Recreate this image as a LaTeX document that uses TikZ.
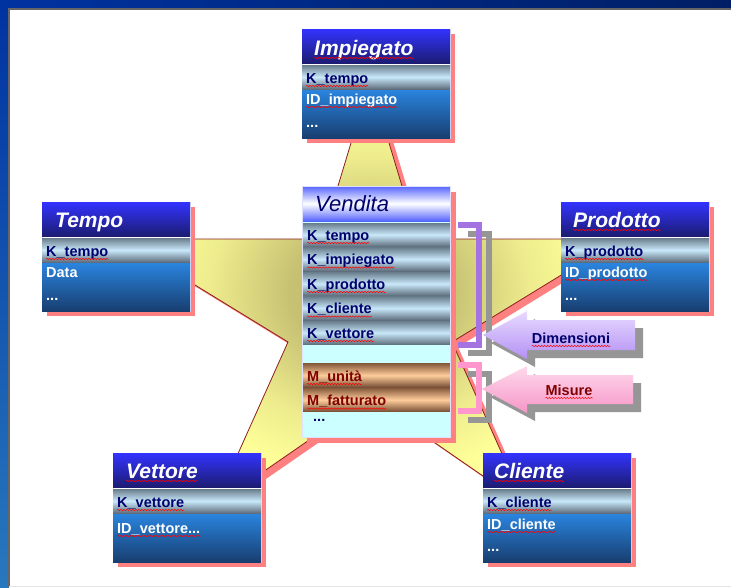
\documentclass[tikz,border=0pt]{standalone}
\usepackage{fontspec}
\setmainfont{Liberation Sans}
\usetikzlibrary{decorations.pathmorphing}
\definecolor{hdrtop}{RGB}{51,51,255}
\definecolor{hdrbot}{RGB}{28,28,115}
\definecolor{keytop}{RGB}{105,125,140}
\definecolor{keymid}{RGB}{200,232,250}
\definecolor{keybot}{RGB}{95,110,125}
\definecolor{attrtop}{RGB}{42,132,222}
\definecolor{attrbot}{RGB}{24,62,112}
\definecolor{navytxt}{RGB}{0,0,110}
\definecolor{vhead}{RGB}{85,100,255}
\definecolor{vbody}{RGB}{204,255,255}
\definecolor{mtop}{RGB}{135,90,60}
\definecolor{mmid}{RGB}{255,205,155}
\definecolor{mbot}{RGB}{120,80,55}
\definecolor{mred}{RGB}{128,0,0}
\definecolor{pinksh}{RGB}{255,128,128}
\definecolor{staredge}{RGB}{255,255,153}
\definecolor{starmid}{RGB}{185,178,105}
\definecolor{starline}{RGB}{140,30,30}
\definecolor{dimlight}{RGB}{232,218,255}
\definecolor{dimdark}{RGB}{180,145,245}
\definecolor{dimbr}{RGB}{165,115,225}
\definecolor{mislight}{RGB}{255,218,236}
\definecolor{misdark}{RGB}{245,150,200}
\definecolor{misbr}{RGB}{255,150,205}
\definecolor{greysh}{RGB}{150,150,150}
\definecolor{frameA}{RGB}{0,50,160}
\definecolor{frameB}{RGB}{0,30,100}
\definecolor{frameC}{RGB}{40,120,190}
\pgfdeclareradialshading{starshade}{\pgfpoint{0bp}{0bp}}{color(0bp)=(starmid); color(8bp)=(starmid!80!staredge);
    color(16bp)=(staredge!75!starmid); color(22bp)=(staredge); color(50bp)=(staredge)}

\begin{document}
\begin{tikzpicture}[x=1pt,y=-1pt,
    hdr/.style={top color=hdrtop,bottom color=hdrbot},
    keyrow/.style={top color=keytop,bottom color=keybot,middle color=keymid},
    attr/.style={top color=attrtop,bottom color=attrbot},
    mrow/.style={top color=mtop,bottom color=mbot,middle color=mmid},
    boxsh/.style={fill=pinksh},
    boxline/.style={draw=blue!12,line width=0.8},
    hdrtxt/.style={anchor=base west,inner sep=0pt,text=white,font=\fontsize{21}{21}\selectfont\bfseries\itshape},
    keytxt/.style={anchor=base west,inner sep=0pt,text=navytxt,font=\fontsize{14.5}{15}\selectfont\bfseries},
    attrtxt/.style={keytxt,text=white},
    mtxt/.style={keytxt,text=mred},
    typo/.style={append after command={([yshift=-3pt]\tikzlastnode.base west) edge[draw=red,line width=0.5,decorate,decoration={snake,amplitude=0.7pt,segment length=3pt}] ([yshift=-3pt]\tikzlastnode.base east)}},
    brsh/.style={draw=greysh,line width=6},
    ]
    \useasboundingbox (0,0) rectangle (731,587);

    % slide frame
    \shade[left color=frameA,right color=frameB] (0,0) rectangle (731,9);
    \shade[top color=frameA,bottom color=frameC] (0,0) rectangle (9,587);
    \fill[white] (9,9) rectangle (731,587);
    \draw[black!60,line width=1.2] (731,9) -- (9,9) -- (9,587);
    \draw[black!10] (9,586) -- (731,586);

    % star
    \fill[pinksh,shift={(6,5)}] (370,80) -- (418,239) -- (620,239) -- (452,342) -- (525,505) -- (370,398)
        -- (215,505) -- (288,342) -- (120,239) -- (322,239) -- cycle;
    \shadedraw[shading=starshade,draw=starline,line width=0.8] (370,80) -- (418,239) -- (620,239)
        -- (452,342) -- (525,505) -- (370,398) -- (215,505) -- (288,342) -- (120,239) -- (322,239) -- cycle;

    % Impiegato
    \fill[boxsh] (307,34) rectangle (455,143);
    \filldraw[fill=white,boxline] (302,29) rectangle (450,138);
    \shade[hdr] (302,29) rectangle (450,63);
    \shade[keyrow] (302,65) rectangle (450,89);
    \shade[attr] (302,90) rectangle (450,138);
    \node[hdrtxt,typo] (impiegato) at (314,55) {Impiegato};
    \node[keytxt,typo] (imp-k) at (306,83) {K\_tempo};
    \node[attrtxt,typo] (imp-id) at (306,104) {ID\_impiegato};
    \node[attrtxt] (imp-dots) at (306,127) {...};

    % Tempo
    \fill[boxsh] (47,207) rectangle (195,316);
    \filldraw[fill=white,boxline] (42,202) rectangle (190,311);
    \shade[hdr] (42,202) rectangle (190,236);
    \shade[keyrow] (42,238) rectangle (190,262);
    \shade[attr] (42,263) rectangle (190,311);
    \node[hdrtxt] (tempo) at (55,227) {Tempo};
    \node[keytxt,typo] (tem-k) at (46,256) {K\_tempo};
    \node[attrtxt] (tem-data) at (46,277) {Data};
    \node[attrtxt] (tem-dots) at (46,300) {...};

    % Prodotto
    \fill[boxsh] (566,207) rectangle (714,316);
    \filldraw[fill=white,boxline] (561,202) rectangle (709,311);
    \shade[hdr] (561,202) rectangle (709,236);
    \shade[keyrow] (561,238) rectangle (709,262);
    \shade[attr] (561,263) rectangle (709,311);
    \node[hdrtxt,typo] (prodotto) at (573,227) {Prodotto};
    \node[keytxt,typo] (pro-k) at (565,256) {K\_prodotto};
    \node[attrtxt,typo] (pro-id) at (565,277) {ID\_prodotto};
    \node[attrtxt] (pro-dots) at (565,300) {...};

    % Vettore
    \fill[boxsh] (118,458) rectangle (266,567);
    \filldraw[fill=white,boxline] (113,453) rectangle (261,562);
    \shade[hdr] (113,453) rectangle (261,487);
    \shade[keyrow] (113,489) rectangle (261,513);
    \shade[attr] (113,514) rectangle (261,562);
    \node[hdrtxt,typo] (vettore) at (126,478) {Vettore};
    \node[keytxt,typo] (vet-k) at (117,507) {K\_vettore};
    \node[attrtxt,typo] (vet-id) at (117,533) {ID\_vettore...};

    % Cliente
    \fill[boxsh] (488,458) rectangle (636,567);
    \filldraw[fill=white,boxline] (483,453) rectangle (631,562);
    \shade[hdr] (483,453) rectangle (631,487);
    \shade[keyrow] (483,489) rectangle (631,513);
    \shade[attr] (483,514) rectangle (631,562);
    \node[hdrtxt,typo] (cliente) at (494,478) {Cliente};
    \node[keytxt,typo] (cli-k) at (487,507) {K\_cliente};
    \node[attrtxt,typo] (cli-id) at (487,529) {ID\_cliente};
    \node[attrtxt] (cli-dots) at (487,551) {...};

    % Vendita (fact table)
    \fill[boxsh] (307,192) rectangle (456,443);
    \fill[vbody] (302,186) rectangle (450,437);
    \shade[top color=vhead,bottom color=vhead,middle color=white] (302,186) rectangle (450,221);
    \shade[keyrow] (302,223) rectangle (450,246.5);
    \shade[keyrow] (302,247.5) rectangle (450,271);
    \shade[keyrow] (302,272) rectangle (450,295.5);
    \shade[keyrow] (302,296.5) rectangle (450,320);
    \shade[keyrow] (302,321) rectangle (450,344.5);
    \shade[mrow] (302,363.5) rectangle (450,387);
    \shade[mrow] (302,388) rectangle (450,411.5);
    \draw[boxline] (302,186) rectangle (450,437);
    \node[anchor=base west,inner sep=0pt,text=navytxt,font=\fontsize{22}{22}\selectfont\itshape] (vendita) at (315,211) {Vendita};
    \node[keytxt,typo] (ven-k1) at (307,240) {K\_tempo};
    \node[keytxt,typo] (ven-k2) at (307,264.5) {K\_impiegato};
    \node[keytxt,typo] (ven-k3) at (307,289) {K\_prodotto};
    \node[keytxt,typo] (ven-k4) at (307,313.5) {K\_cliente};
    \node[keytxt,typo] (ven-k5) at (307,338) {K\_vettore};
    \node[mtxt,typo] (ven-m1) at (307,381) {M\_unità};
    \node[mtxt,typo] (ven-m2) at (307,405.5) {M\_fatturato};
    \node[keytxt] (ven-dots) at (313,421) {...};

    % brackets
    \draw[brsh] (468,234) -- (489,234) -- (489,353) -- (468,353);
    \draw[draw=dimbr,line width=6] (458,225) -- (479,225) -- (479,345) -- (458,345);
    \draw[brsh] (468,374) -- (489,374) -- (489,420) -- (468,420);
    \draw[draw=misbr,line width=6] (458,365) -- (479,365) -- (479,411) -- (458,411);

    % arrow dimensioni
    \fill[greysh,shift={(8,8)}] (483,335) -- (527,311) -- (527,320) -- (635,320) -- (635,350) -- (527,350) -- (527,359) -- cycle;
    \shade[top color=dimlight,bottom color=dimdark] (483,335) -- (527,311) -- (527,320) -- (635,320) -- (635,350) -- (527,350) -- (527,359) -- cycle;
    \node[keytxt,typo,anchor=base] (dimensioni) at (571,343) {Dimensioni};
    % arrow misure
    \fill[greysh,shift={(8,8)}] (482,389) -- (527,366) -- (527,375) -- (633,375) -- (633,404) -- (527,404) -- (527,413) -- cycle;
    \shade[top color=mislight,bottom color=misdark] (482,389) -- (527,366) -- (527,375) -- (633,375) -- (633,404) -- (527,404) -- (527,413) -- cycle;
    \node[mtxt,typo,anchor=base] (misure) at (569,395) {Misure};
\end{tikzpicture}
\end{document}
